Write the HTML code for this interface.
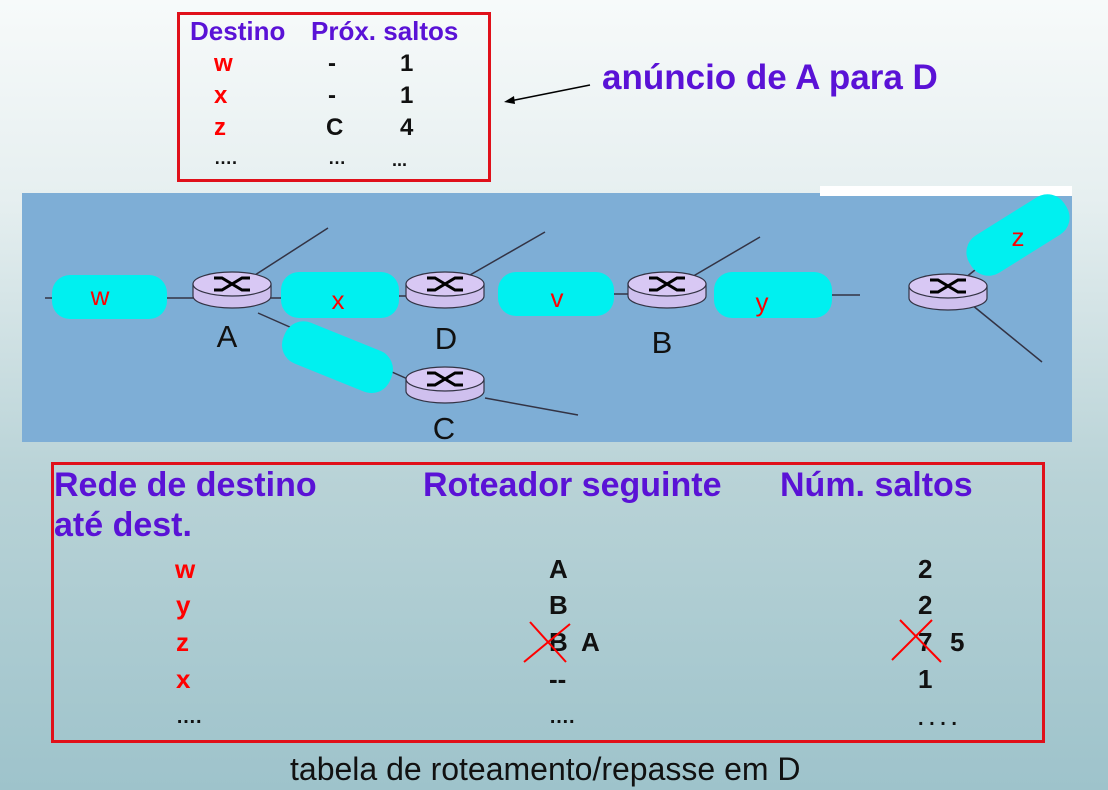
<!DOCTYPE html>
<html><head><meta charset="utf-8"><style>
body{margin:0;width:1108px;height:790px;overflow:hidden;background:linear-gradient(#f7fafa 0%,#e6eff0 25%,#b9d3d7 60%,#9ec3cb 100%);font-family:"Liberation Sans",sans-serif;position:relative}
.t{position:absolute;white-space:nowrap;font-weight:bold}
.p{color:#5a12d6}.r{color:#f00}.k{color:#111}
.box{position:absolute;border:3px solid #e0101a;box-sizing:border-box}
</style></head><body>
<div class="box" style="left:177px;top:12px;width:314px;height:170px"></div>
<div class="t p" style="left:190px;top:16px;font-size:26px">Destino</div>
<div class="t p" style="left:311px;top:16px;font-size:26px">Próx. saltos</div>
<div class="t r" style="left:214px;top:50px;font-size:24px">w</div>
<div class="t r" style="left:214px;top:82px;font-size:24px">x</div>
<div class="t r" style="left:214px;top:114px;font-size:24px">z</div>
<div class="t k" style="left:214px;top:148px;font-size:18px">….</div>
<div class="t k" style="left:328px;top:50px;font-size:24px">-</div>
<div class="t k" style="left:328px;top:82px;font-size:24px">-</div>
<div class="t k" style="left:326px;top:114px;font-size:24px">C</div>
<div class="t k" style="left:328px;top:148px;font-size:18px">…</div>
<div class="t k" style="left:400px;top:50px;font-size:24px">1</div>
<div class="t k" style="left:400px;top:82px;font-size:24px">1</div>
<div class="t k" style="left:400px;top:114px;font-size:24px">4</div>
<div class="t k" style="left:392px;top:150px;font-size:18px">...</div>
<div class="t p" style="left:602px;top:58px;font-size:35px">anúncio de A para D</div>
<svg width="1108" height="790" style="position:absolute;left:0;top:0">
<line x1="590" y1="85" x2="510" y2="101" stroke="#000" stroke-width="1.5"/>
<polygon points="504,102 514,96 515,104" fill="#000"/>
<rect x="22" y="193" width="1050" height="249" fill="#7eaed6"/>
<rect x="820" y="186" width="252" height="10" fill="#fff"/>
<g stroke="#334" stroke-width="1.5">
<line x1="45" y1="298" x2="60" y2="298"/><line x1="160" y1="298" x2="200" y2="298"/>
<line x1="255" y1="275" x2="328" y2="228"/><line x1="470" y1="275" x2="545" y2="232"/>
<line x1="690" y1="278" x2="760" y2="237"/><line x1="258" y1="313" x2="410" y2="380"/>
<line x1="485" y1="398" x2="578" y2="415"/><line x1="820" y1="295" x2="860" y2="295"/>
<line x1="965" y1="278" x2="985" y2="262"/><line x1="972" y1="305" x2="1042" y2="362"/>
<line x1="270" y1="298" x2="285" y2="298"/><line x1="395" y1="296" x2="410" y2="296"/><line x1="610" y1="294" x2="630" y2="294"/>
</g>
<g fill="#00f0f0">
<rect x="52" y="275" width="115" height="44" rx="18"/>
<rect x="281" y="272" width="118" height="46" rx="18"/>
<rect x="498" y="272" width="116" height="44" rx="18"/>
<rect x="714" y="272" width="118" height="46" rx="18"/>
<rect x="280" y="335" width="115" height="44" rx="20" transform="rotate(22 337 357)"/>
<rect x="962" y="213" width="112" height="44" rx="20" transform="rotate(-32 1018 235)"/>
</g>
<g font-family="Liberation Sans,sans-serif" font-size="26" fill="#f00" text-anchor="middle">
<text x="100" y="305">w</text><text x="338" y="309">x</text><text x="557" y="307">v</text><text x="762" y="311">y</text><text x="1018" y="246">z</text>
</g>
<g id="routers"></g>
<g font-family="Liberation Sans,sans-serif" font-size="31" fill="#111" text-anchor="middle">
<text x="227" y="347">A</text><text x="446" y="349">D</text><text x="662" y="353">B</text><text x="444" y="439">C</text>
</g>
</svg>
<div class="box" style="left:51px;top:462px;width:994px;height:281px"></div>
<div class="t p" style="left:54px;top:466px;font-size:34px">Rede de destino</div>
<div class="t p" style="left:54px;top:506px;font-size:34px">até dest.</div>
<div class="t p" style="left:423px;top:466px;font-size:34px">Roteador seguinte</div>
<div class="t p" style="left:780px;top:466px;font-size:34px">Núm. saltos</div>
<div class="t r" style="left:175px;top:554px;font-size:26px">w</div>
<div class="t r" style="left:176px;top:590px;font-size:26px">y</div>
<div class="t r" style="left:176px;top:627px;font-size:26px">z</div>
<div class="t r" style="left:176px;top:664px;font-size:26px">x</div>
<div class="t k" style="left:176px;top:706px;font-size:20px">….</div>
<div class="t k" style="left:549px;top:554px;font-size:26px">A</div>
<div class="t k" style="left:549px;top:590px;font-size:26px">B</div>
<div class="t k" style="left:549px;top:627px;font-size:26px">B</div>
<div class="t k" style="left:581px;top:627px;font-size:26px">A</div>
<div class="t k" style="left:549px;top:664px;font-size:26px">--</div>
<div class="t k" style="left:549px;top:706px;font-size:20px">….</div>
<div class="t k" style="left:918px;top:554px;font-size:26px">2</div>
<div class="t k" style="left:918px;top:590px;font-size:26px">2</div>
<div class="t k" style="left:918px;top:627px;font-size:26px">7</div>
<div class="t k" style="left:950px;top:627px;font-size:26px">5</div>
<div class="t k" style="left:918px;top:664px;font-size:26px">1</div>
<div class="t k" style="left:918px;top:708px;font-size:20px">. . . .</div>
<svg width="1108" height="790" style="position:absolute;left:0;top:0">
<g stroke="#f00" stroke-width="2"><line x1="524" y1="662" x2="570" y2="624"/><line x1="530" y1="622" x2="566" y2="662"/>
<line x1="892" y1="660" x2="932" y2="620"/><line x1="900" y1="620" x2="941" y2="662"/></g>
</svg>
<div class="t" style="left:290px;top:751px;font-size:32px;font-weight:normal;color:#111">tabela de roteamento/repasse em D</div>
<script>
const routers=[[232,290],[445,290],[667,290],[445,385],[948,292]];
const g=document.getElementById('routers');
routers.forEach(([x,y],i)=>{
 const ns='http://www.w3.org/2000/svg';
 const gg=document.createElementNS(ns,'g');
 
 
 gg.innerHTML=`<path d="M${x-39},${y-6} L${x-39},${y+6} A39 12 0 0 0 ${x+39},${y+6} L${x+39},${y-6} Z" fill="#cfc0ee" stroke="#334" stroke-width="1.2"/>
<ellipse cx="${x}" cy="${y-6}" rx="39" ry="12" fill="#d8c8f4" stroke="#334" stroke-width="1.2"/>
<path d="M${x-18},${y-12} h8 l10,6 l10,-6 h8 M${x-18},${y} h8 l10,-6 l10,6 h8" fill="none" stroke="#000" stroke-width="3"/>`;
 g.appendChild(gg);
});
</script>
</body></html>
